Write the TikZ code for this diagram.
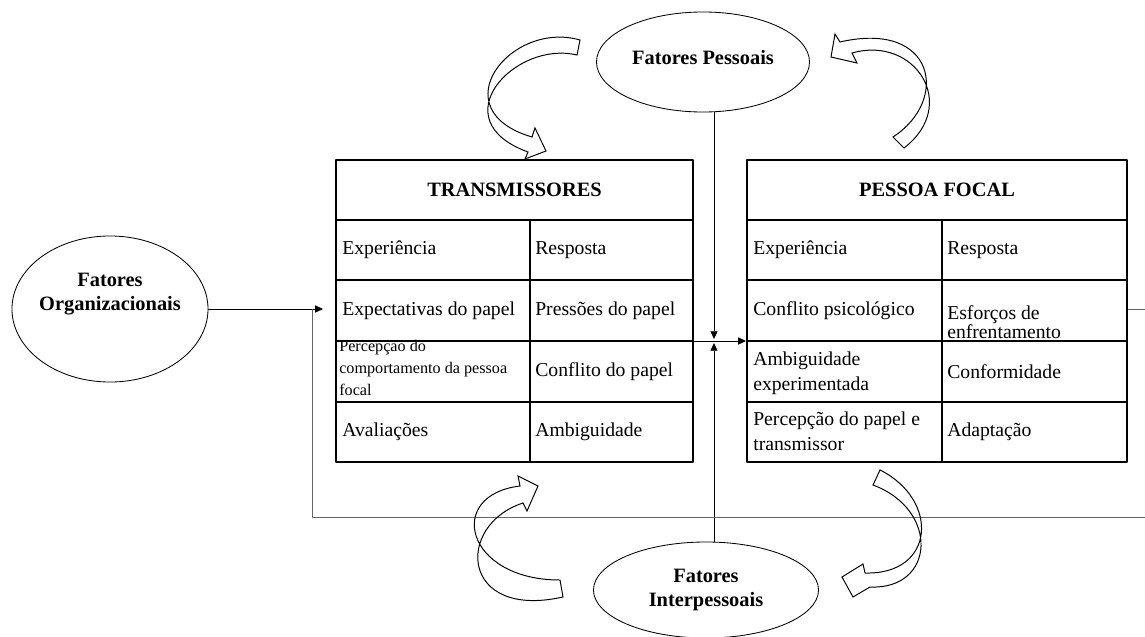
\documentclass[tikz,border=0pt]{standalone}
\usepackage{fontspec}
\setmainfont{Liberation Serif}
\usetikzlibrary{shapes.geometric,arrows.meta}

\begin{document}
\begin{tikzpicture}[x=0.025cm,y=-0.025cm,line join=round,>={Triangle[length=5.5pt,width=5pt]},
	txt/.style={anchor=west,align=left,inner sep=0pt,font=\fontsize{14}{17.7}\selectfont},
	ttl/.style={inner sep=0pt,font=\bfseries\fontsize{14.5}{17}\selectfont},
	fator/.style={draw,ellipse,line width=0.6pt,inner sep=0pt,align=center,font=\bfseries\fontsize{14.5}{17}\selectfont},
	tbl/.style={draw,line width=1.4pt,inner sep=0pt,minimum height=7.55cm},
	seta/.style={line width=0.6pt},
	fb/.style={draw=black!60},
	curva/.style={line width=0.7pt,line join=miter}]
	\useasboundingbox (0,0) rectangle (1145,637);
	\node[fator,minimum width=4.9cm,minimum height=3.65cm] (org) at (110,309) {};
	\node[fator,draw=none,yshift=0.38cm] (orgtxt) at (org.center) {Fatores\\Organizacionais};
	\node[fator,minimum width=5.325cm,minimum height=2.5cm] (fp) at (703,62) {};
	\node[fator,draw=none,yshift=0.1cm] (fptxt) at (fp.center) {Fatores Pessoais};
	\node[fator,minimum width=5.625cm,minimum height=2.4cm] (fi) at (706,590) {Fatores\\Interpessoais};
	\node[tbl,minimum width=8.925cm] (tr) at (514.5,311) {};
	\node[tbl,minimum width=9.5cm] (pf) at (937,311) {};
	\foreach \y in {220,280,341,402} {
		\draw[line width=1.3pt] (336,\y) -- (693,\y);
		\draw[line width=1.3pt] (747,\y) -- (1127,\y);
	}
	\draw[line width=1.3pt] (530,220) -- (530,462) (942,220) -- (942,462);
	\node[ttl] (trt) at (514.5,190) {TRANSMISSORES};
	\node[ttl] (pft) at (937,190) {PESSOA FOCAL};
	\node[txt] (t1) at (342,250) {Experiência};
	\node[txt] (t2) at (535,250) {Resposta};
	\node[txt] (t3) at (342,310.5) {Expectativas do papel};
	\node[txt] (t4) at (535,310.5) {Pressões do papel};
	\node[txt,anchor=north west,font=\fontsize{11.5}{15.6}\selectfont] (t5) at (339,340) {Percepção do\\comportamento da pessoa\\focal};
	\node[txt] (t6) at (535,371.5) {Conflito do papel};
	\node[txt] (t7) at (342,432) {Avaliações};
	\node[txt] (t8) at (535,432) {Ambiguidade};
	\node[txt] (p1) at (753,250) {Experiência};
	\node[txt] (p2) at (947,250) {Resposta};
	\node[txt] (p3) at (753,310.5) {Conflito psicológico};
	\node[txt,font=\fontsize{14}{12.3}\selectfont] (p4) at (947,322) {Esforços de\\enfrentamento};
	\node[txt] (p5) at (753,373) {Ambiguidade\\experimentada};
	\node[txt] (p6) at (947,371.5) {Conformidade};
	\node[txt] (p7) at (753,431) {Percepção do papel e\\transmissor};
	\node[txt] (p8) at (947,432) {Adaptação};
	\coordinate (jn) at (714,341);
	\coordinate (fbs) at (1145,309);
	\coordinate (fbd) at (1145,517);
	\coordinate (fbe) at (312,517);
	\draw[seta,->,shorten >=0.3cm] (org.east) -- (org.east -| tr.west);
	\draw[seta,->] (tr.east |- jn) -- (pf.west |- jn);
	\draw[seta,->] (fp.south -| jn) -- ([yshift=0.05cm]jn);
	\draw[seta,->] (fi.north -| jn) -- ([yshift=-0.05cm]jn);
	\draw[seta,fb] (pf.east |- org.east) -- (fbs);
	\draw[seta,fb] (fbd) -- (fbe) -- (fbe |- org.east);
	\draw[curva] (580,40) .. controls (510,20) and (440,110) .. (532,137) -- (535,128) -- (546,151) -- (525,159) -- (528,152) .. controls (440,120) and (515,40) .. (577,55) -- cycle;
	\draw[curva] (893,137) .. controls (950,100) and (935,20) .. (840,42) -- (835,34) -- (831,57) -- (857,63) -- (852,53) .. controls (915,35) and (960,105) .. (904,148) -- cycle;
	\draw[curva] (560,580) .. controls (465,580) and (445,495) .. (520,486) -- (518,476) -- (538,486) -- (527,511) -- (523,503) .. controls (455,525) and (460,620) .. (563,597) -- cycle;
	\draw[curva] (873,485) .. controls (940,510) and (935,590) .. (870,587) -- (853,597) -- (842,577) -- (863,564) -- (865,573) .. controls (935,575) and (940,500) .. (880,470) -- cycle;
\end{tikzpicture}
\end{document}
